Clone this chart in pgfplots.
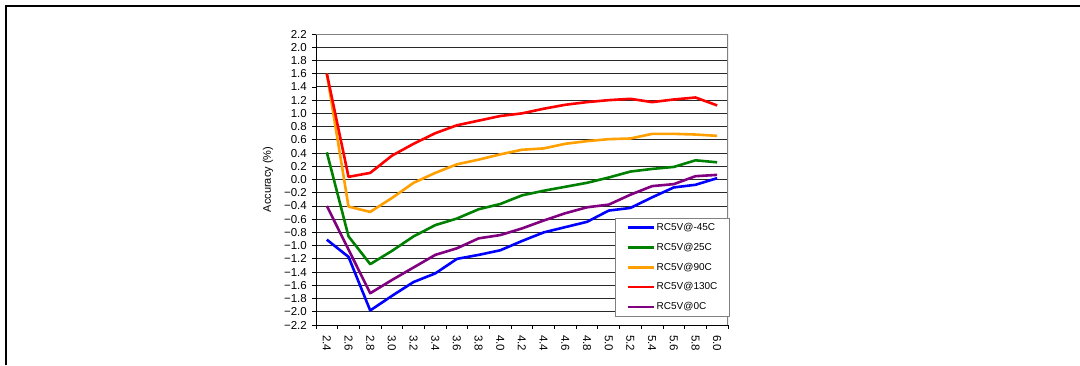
\documentclass[border=0pt]{standalone}
\usepackage{fontspec}
\setmainfont{Liberation Sans}
\usepackage{pgfplots}
\pgfplotsset{compat=1.18}
\definecolor{cBlue}{RGB}{0,0,255}
\definecolor{cGreen}{RGB}{0,128,0}
\definecolor{cOrange}{RGB}{255,160,0}
\definecolor{cRed}{RGB}{255,0,0}
\definecolor{cPurple}{RGB}{128,0,128}
\definecolor{gridc}{RGB}{40,40,40}
\definecolor{borderc}{RGB}{128,128,128}
\pgfplotstableread{
i  m45   p25   p90   p130  p0
0  -0.91  0.41  1.60  1.60 -0.40
1  -1.17 -0.86 -0.41  0.04 -1.06
2  -1.98 -1.28 -0.49  0.10 -1.72
3  -1.76 -1.08 -0.28  0.36 -1.52
4  -1.55 -0.86 -0.05  0.54 -1.33
5  -1.42 -0.69  0.10  0.70 -1.14
6  -1.20 -0.59  0.23  0.82 -1.04
7  -1.14 -0.45  0.30  0.89 -0.89
8  -1.07 -0.37  0.38  0.96 -0.84
9  -0.93 -0.24  0.45  1.00 -0.74
10 -0.80 -0.17  0.47  1.07 -0.62
11 -0.72 -0.11  0.54  1.13 -0.51
12 -0.64 -0.05  0.58  1.17 -0.42
13 -0.47  0.03  0.61  1.20 -0.38
14 -0.43  0.12  0.62  1.22 -0.23
15 -0.27  0.16  0.69  1.17 -0.10
16 -0.12  0.19  0.69  1.21 -0.07
17 -0.08  0.29  0.68  1.24  0.05
18  0.02  0.26  0.66  1.12  0.07
}\datatab
\begin{document}
\begin{tikzpicture}
\useasboundingbox (0pt,0pt) rectangle (1080pt,365pt);
\draw[line width=2pt] (6pt,0pt) -- (6pt,359.2pt) -- (1080pt,359.2pt);
\begin{axis}[
  at={(316pt,40pt)}, anchor=south west,
  scale only axis, width=412pt, height=291pt,
  xmin=-0.5, xmax=18.5, ymin=-2.2, ymax=2.2,
  axis line style={draw=none},
  xtick={0,...,18},
  xticklabels={2.4,2.6,2.8,3.0,3.2,3.4,3.6,3.8,4.0,4.2,4.4,4.6,4.8,5.0,5.2,5.4,5.6,5.8,6.0},
  minor xtick={-0.5,0.5,...,18.5},
  major x tick style={draw=none},
  minor x tick style={black, line width=0.8pt},
  minor tick length=4pt,
  ytick={-2.2,-2.0,-1.8,-1.6,-1.4,-1.2,-1.0,-0.8,-0.6,-0.4,-0.2,0,0.2,0.4,0.6,0.8,1.0,1.2,1.4,1.6,1.8,2.0,2.2},
  yticklabels={−2.2,−2.0,−1.8,−1.6,−1.4,−1.2,−1.0,−0.8,−0.6,−0.4,−0.2,0.0,0.2,0.4,0.6,0.8,1.0,1.2,1.4,1.6,1.8,2.0,2.2},
  major y tick style={black, line width=0.8pt},
  major tick length=4pt,
  tick align=outside,
  xtick pos=bottom, ytick pos=left,
  ymajorgrids,
  major grid style={gridc, line width=0.9pt},
  yticklabel style={font=\fontsize{11.5}{12}\selectfont, inner sep=0pt, xshift=-5pt},
  xticklabel style={font=\fontsize{11.5}{12}\selectfont, rotate=-90, anchor=west, inner sep=0pt, xshift=6pt},
  ylabel={Accuracy (\%)},
  ylabel style={font=\fontsize{11}{12}\selectfont, at={(axis description cs:-0.1165,0.5)}, anchor=center, rotate=0},
  legend style={at={(rel axis cs:0.726,0.368)}, anchor=north west, draw=borderc, line width=1pt,
    font=\fontsize{10}{12}\selectfont, inner xsep=11pt, inner ysep=3pt,
    nodes={inner sep=1.5pt, text height=7.5pt, text depth=2pt},
    row sep=7.3pt},
  legend cell align=left,
  legend image code/.code={\draw[#1, line width=2.6pt] (0pt,0pt) -- (26pt,0pt);},
  every axis plot/.append style={line width=2.6pt, line join=round},
]
\addplot[cBlue, no marks] table[x=i, y=m45] {\datatab};
\addplot[cGreen, no marks] table[x=i, y=p25] {\datatab};
\addplot[cOrange, no marks] table[x=i, y=p90] {\datatab};
\addplot[cRed, no marks] table[x=i, y=p130] {\datatab};
\addplot[cPurple, no marks] table[x=i, y=p0] {\datatab};
\legend{RC5V@-45C, RC5V@25C, RC5V@90C, RC5V@130C, RC5V@0C}
\draw[black, line width=1pt] (rel axis cs:0,1) -- (rel axis cs:0,0) -- (rel axis cs:1,0);
\draw[borderc, line width=2pt] (rel axis cs:0,1) -- (rel axis cs:1,1) -- (rel axis cs:1,0);
\end{axis}
\end{tikzpicture}
\end{document}
